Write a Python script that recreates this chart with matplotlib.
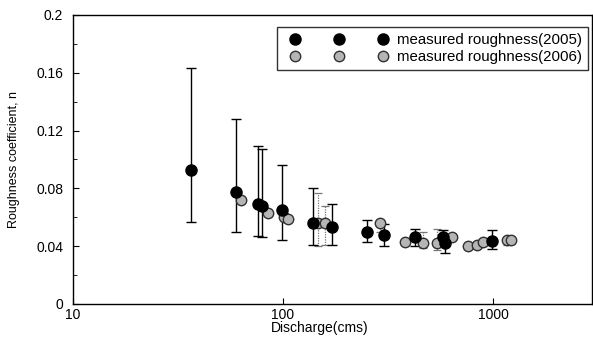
import numpy as np
import matplotlib
matplotlib.use("Agg")
import matplotlib.pyplot as plt
from matplotlib.ticker import FixedLocator, FixedFormatter, NullLocator
from matplotlib.legend_handler import HandlerLine2D

# 2005 measured roughness
q2005 = [36.5, 59.7, 76, 79.4, 99, 139, 171, 251, 303, 425, 578, 590, 989]
n2005 = [0.0927, 0.0775, 0.069, 0.068, 0.065, 0.056, 0.053, 0.050, 0.048, 0.046, 0.046, 0.042, 0.0436]
lo2005 = [0.057, 0.050, 0.047, 0.046, 0.044, 0.041, 0.041, 0.043, 0.040, 0.040, 0.040, 0.035, 0.038]
hi2005 = [0.163, 0.128, 0.109, 0.107, 0.096, 0.080, 0.069, 0.058, 0.055, 0.052, 0.051, 0.046, 0.051]

# 2006 measured roughness
q2006 = [63, 85, 101, 106, 147, 158, 290, 381, 464, 541, 638, 760, 840, 896, 1170, 1215]
n2006 = [0.072, 0.063, 0.060, 0.059, 0.056, 0.056, 0.056, 0.043, 0.042, 0.042, 0.046, 0.040, 0.041, 0.043, 0.044, 0.044]
lo2006 = [np.nan, np.nan, np.nan, np.nan, 0.040, 0.041, 0.050, np.nan, 0.039, 0.037, np.nan, np.nan, np.nan, np.nan, 0.041, np.nan]
hi2006 = [np.nan, np.nan, np.nan, np.nan, 0.077, 0.068, 0.057, np.nan, 0.050, 0.052, np.nan, np.nan, np.nan, np.nan, 0.045, np.nan]

xticks = [10, 100, 1000]
xticklabels = ["10", "100", "1000"]
yticks = [0, 0.04, 0.08, 0.12, 0.16, 0.2]
yticklabels = ["0", "0.04", "0.08", "0.12", "0.16", "0.2"]

plt.rcParams['font.family'] = ['Liberation Sans', 'DejaVu Sans']

fig = plt.figure(figsize=(5.93, 3.4), dpi=100)
ax = fig.add_axes([0.123, 0.106, 0.875, 0.850])

n05 = np.array(n2005); n06 = np.array(n2006)
err05 = [n05 - np.array(lo2005), np.array(hi2005) - n05]
err06 = [n06 - np.array(lo2006), np.array(hi2006) - n06]

eb6 = ax.errorbar(q2006, n2006, yerr=err06, fmt='none', ecolor='#777777',
                  elinewidth=0.9, capsize=3, capthick=0.9, zorder=2)
for lc in eb6[2]:
    lc.set_linestyle((0, (1, 1)))
ax.errorbar(q2005, n2005, yerr=err05, fmt='none', ecolor='black',
            elinewidth=1.0, capsize=3.5, capthick=1.0, zorder=2)

ax.plot(q2006, n2006, linestyle='none', marker='o', markersize=7.5,
        markerfacecolor='#b5b5b5', markeredgecolor='#303030', markeredgewidth=1.0,
        zorder=3, label='measured roughness(2006)')
ax.plot(q2005, n2005, linestyle='none', marker='o', markersize=8,
        markerfacecolor='black', markeredgecolor='black', zorder=4,
        label='measured roughness(2005)')

ax.set_xscale('log')
ax.set_xlim(10, 2950)
ax.set_ylim(0, 0.2)
ax.xaxis.set_major_locator(FixedLocator(xticks))
ax.xaxis.set_major_formatter(FixedFormatter(xticklabels))
ax.xaxis.set_minor_locator(NullLocator())
ax.yaxis.set_major_locator(FixedLocator(yticks))
ax.yaxis.set_major_formatter(FixedFormatter(yticklabels))
ax.yaxis.set_minor_locator(FixedLocator([0.02, 0.06, 0.1, 0.14, 0.18]))
ax.tick_params(axis='both', which='both', direction='in', labelsize=10)
ax.tick_params(axis='y', which='major', length=4, pad=7)
ax.tick_params(axis='x', which='major', length=4, pad=3)
ax.tick_params(axis='y', which='minor', length=3)
for s in ax.spines.values():
    s.set_linewidth(1.0)

ax.set_xlabel('Discharge(cms)', fontsize=10)
ax.xaxis.set_label_coords(0.476, -0.058)
ax.set_ylabel('Roughness coefficient, n', fontsize=9)
ax.yaxis.set_label_coords(-0.102, 0.5)

handles, labels = ax.get_legend_handles_labels()
leg = ax.legend(handles[::-1], labels[::-1], loc='upper right', numpoints=3,
                bbox_to_anchor=(0.992, 0.958), borderaxespad=0,
                handler_map={h: HandlerLine2D(marker_pad=0.84) for h in handles},
                handlelength=7.5, fontsize=10.8, frameon=True, fancybox=False,
                edgecolor='black', handletextpad=0.1,
                labelspacing=0.22, borderpad=0.4)
leg.get_frame().set_linewidth(1.0)

fig.savefig('out.png', dpi=100)
